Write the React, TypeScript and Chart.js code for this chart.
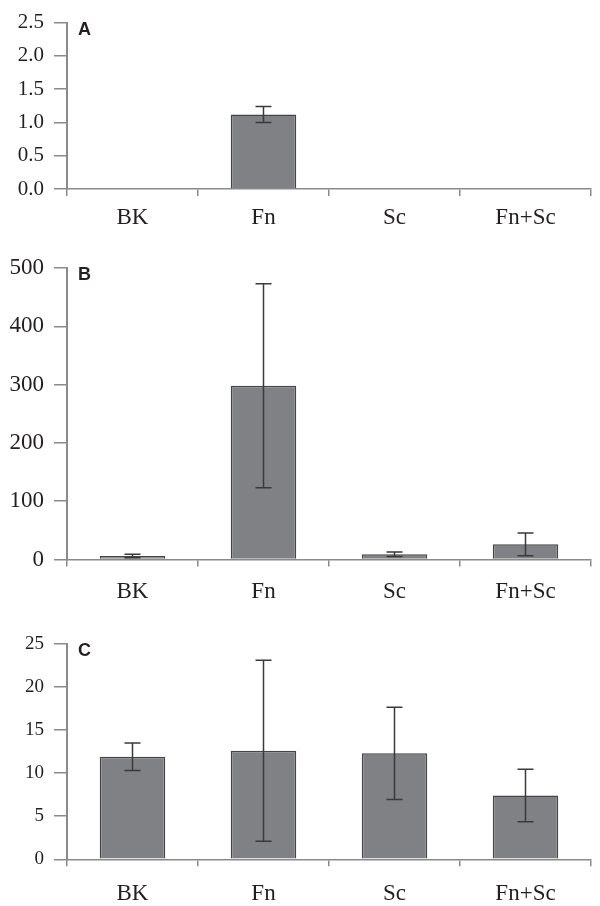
import React, { useEffect, useRef } from "react";
import { Chart, registerables } from "chart.js";

Chart.register(...registerables);

const categories = ["BK", "Fn", "Sc", "Fn+Sc"];

const valuesA = [0, 1.12, 0, 0];
const errorsA = [0, 0.12, 0, 0];
const ticksA = { min: 0, max: 2.5, step: 0.5, decimals: 1 };

const valuesB = [6, 298, 9, 26];
const errorsB = [3, 175, 4, 19.5];
const ticksB = { min: 0, max: 500, step: 100, decimals: 0 };

const valuesC = [11.9, 12.6, 12.3, 7.4];
const errorsC = [1.6, 10.5, 5.35, 3.05];
const ticksC = { min: 0, max: 25, step: 5, decimals: 0 };

const AXIS = "#8a8a8a";
const TEXT = "#231f20";
const BAR = "#808184";
const BAR_BORDER = "#454545";

type PanelCfg = {
  letter: string;
  values: number[];
  errors: number[];
  ticks: { min: number; max: number; step: number; decimals: number };
  top: number;
  height: number;
  padTop: number;
  xHeight: number;
  xPad: number;
  yFont: number;
};

const panels: PanelCfg[] = [
  { letter: "A", values: valuesA, errors: errorsA, ticks: ticksA, top: 0, height: 228, padTop: 16, xHeight: 39, xPad: 8, yFont: 21 },
  { letter: "B", values: valuesB, errors: errorsB, ticks: ticksB, top: 228, height: 378, padTop: 40, xHeight: 46.5, xPad: 12, yFont: 23 },
  { letter: "C", values: valuesC, errors: errorsC, ticks: ticksC, top: 606, height: 300, padTop: 38, xHeight: 46.7, xPad: 14, yFont: 19 },
];

const errorBarPlugin = {
  id: "errorBars",
  afterDatasetsDraw(chart: any, _args: any, opts: any) {
    const ctx = chart.ctx;
    const meta = chart.getDatasetMeta(0);
    const yScale = chart.scales.y;
    const vals: number[] = opts.values;
    const errs: number[] = opts.errors;
    ctx.save();
    ctx.strokeStyle = "#3a3a3a";
    ctx.lineWidth = 1.5;
    meta.data.forEach((bar: any, i: number) => {
      const e = errs[i];
      if (!e) return;
      const x = bar.x;
      const yHi = yScale.getPixelForValue(vals[i] + e);
      const yLo = yScale.getPixelForValue(vals[i] - e);
      const cap = 8;
      ctx.beginPath();
      ctx.moveTo(x, yHi);
      ctx.lineTo(x, yLo);
      ctx.moveTo(x - cap, yHi);
      ctx.lineTo(x + cap, yHi);
      ctx.moveTo(x - cap, yLo);
      ctx.lineTo(x + cap, yLo);
      ctx.stroke();
    });
    ctx.restore();
  },
};

const letterPlugin = {
  id: "panelLetter",
  afterDraw(chart: any, _args: any, opts: any) {
    const ctx = chart.ctx;
    const area = chart.chartArea;
    ctx.save();
    ctx.fillStyle = TEXT;
    ctx.font = "bold 18px 'Liberation Sans', Arial, sans-serif";
    ctx.textBaseline = "alphabetic";
    ctx.textAlign = "left";
    ctx.fillText(opts.letter, area.left + 11, area.top + 12);
    ctx.restore();
  },
};

function Panel({ cfg }: { cfg: PanelCfg }) {
  const ref = useRef<HTMLCanvasElement | null>(null);
  useEffect(() => {
    if (!ref.current) return;
    const chart = new Chart(ref.current, {
      type: "bar",
      data: {
        labels: categories,
        datasets: [
          {
            data: cfg.values,
            backgroundColor: BAR,
            borderColor: BAR_BORDER,
            borderWidth: 1.5,
            categoryPercentage: 1,
            barPercentage: 0.5,
          },
        ],
      },
      plugins: [errorBarPlugin, letterPlugin],
      options: {
        responsive: false,
        animation: false,
        events: [],
        layout: { padding: { top: cfg.padTop, right: 9, left: 0, bottom: 0 } },
        plugins: {
          legend: { display: false },
          tooltip: { enabled: false },
          errorBars: { values: cfg.values, errors: cfg.errors },
          panelLetter: { letter: cfg.letter },
        } as any,
        scales: {
          x: {
            grid: {
              display: true,
              offset: true,
              drawOnChartArea: false,
              drawTicks: true,
              tickLength: 7,
              color: AXIS,
              lineWidth: 1.5,
            },
            border: { display: true, color: AXIS, width: 1.5 },
            ticks: {
              color: TEXT,
              padding: cfg.xPad,
              font: { family: "'Liberation Serif', 'Times New Roman', serif", size: 23 },
              maxRotation: 0,
            },
            afterFit: (scale: any) => {
              scale.height = cfg.xHeight;
            },
          },
          y: {
            min: cfg.ticks.min,
            max: cfg.ticks.max,
            grid: {
              display: true,
              drawOnChartArea: false,
              drawTicks: true,
              tickLength: 13,
              color: AXIS,
              lineWidth: 1.5,
            },
            border: { display: true, color: AXIS, width: 2 },
            ticks: {
              stepSize: cfg.ticks.step,
              color: TEXT,
              padding: 10,
              font: { family: "'Liberation Serif', 'Times New Roman', serif", size: cfg.yFont },
              callback: (v: any) => Number(v).toFixed(cfg.ticks.decimals),
            },
            afterFit: (scale: any) => {
              scale.width = 67;
            },
          },
        },
      },
    });
    return () => chart.destroy();
  }, [cfg]);
  return (
    <canvas
      ref={ref}
      width={600}
      height={cfg.height}
      style={{ position: "absolute", left: 0, top: cfg.top, width: 600, height: cfg.height, display: "block" }}
    />
  );
}

export default function App() {
  return (
    <div style={{ position: "absolute", left: 0, top: 0, width: 600, height: 906, background: "#ffffff", overflow: "hidden" }}>
      {panels.map((p) => (
        <Panel key={p.letter} cfg={p} />
      ))}
    </div>
  );
}
